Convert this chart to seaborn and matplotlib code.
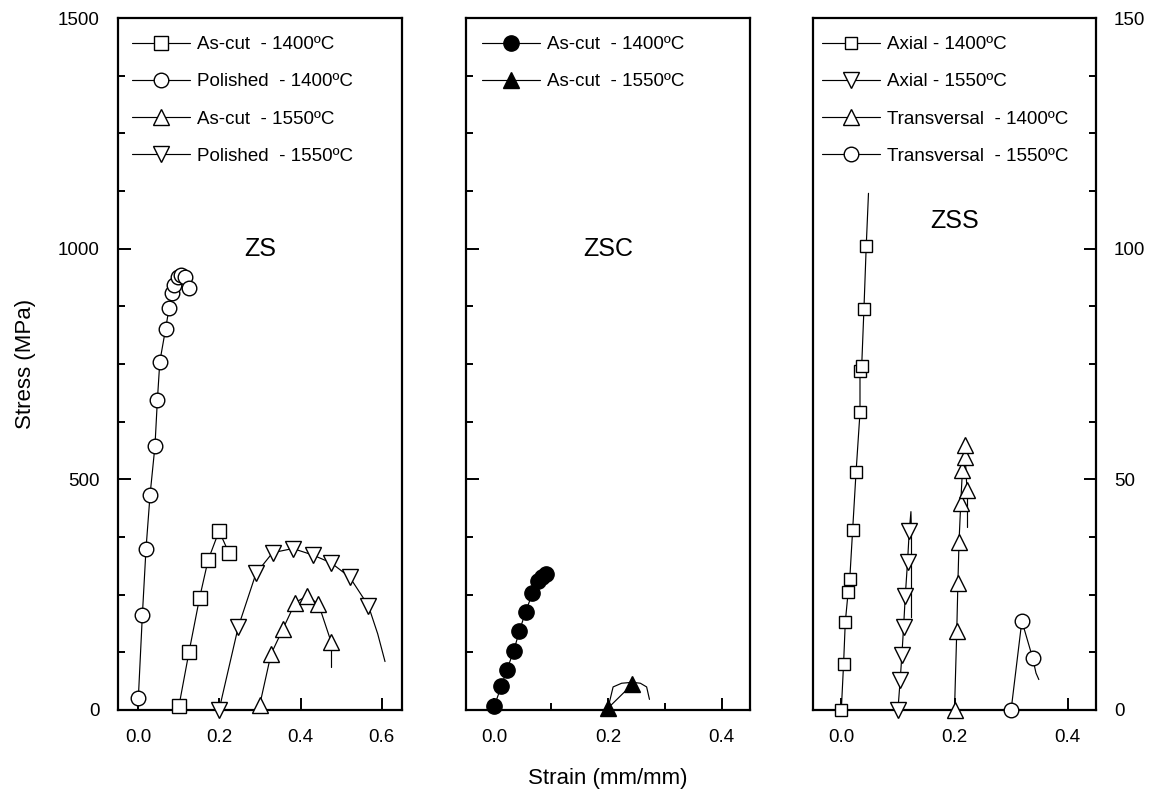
import numpy as np
import matplotlib
matplotlib.use("Agg")
import matplotlib.pyplot as plt
from matplotlib.ticker import MultipleLocator
import seaborn as sns

# --- data (strain in mm/mm, stress in MPa) ---
# ZS
zs_ascut1400_x = [0.100, 0.125, 0.151, 0.172, 0.199, 0.223]
zs_ascut1400_y = [8, 126, 243, 325, 388, 341]
zs_pol1400_x = [0.000, 0.010, 0.019, 0.029, 0.041, 0.047, 0.053, 0.067, 0.076,
                0.082, 0.088, 0.097, 0.106, 0.115, 0.125]
zs_pol1400_y = [25, 206, 350, 467, 572, 672, 755, 825, 872, 903, 922, 938, 942, 938, 914]
zs_ascut1550_x = [0.299, 0.327, 0.356, 0.387, 0.415, 0.444, 0.475]
zs_ascut1550_y = [10, 121, 175, 233, 247, 230, 148]
zs_ascut1550_tail_x = [0.475, 0.475]
zs_ascut1550_tail_y = [148, 93]
zs_pol1550_x = [0.199, 0.246, 0.290, 0.331, 0.381, 0.430, 0.475, 0.521, 0.567]
zs_pol1550_y = [0, 179, 296, 341, 350, 336, 319, 288, 226]
zs_pol1550_tail_x = [0.567, 0.590, 0.608]
zs_pol1550_tail_y = [226, 165, 105]

# ZSC
zsc_1400_x = [0.000, 0.012, 0.022, 0.034, 0.044, 0.055, 0.067, 0.077, 0.083, 0.090]
zsc_1400_y = [9, 51, 87, 128, 171, 213, 253, 280, 289, 295]
zsc_1550_x = [0.200, 0.243]
zsc_1550_y = [4, 56]
zsc_1550_curve_x = [0.200, 0.209, 0.224, 0.243, 0.257, 0.268, 0.273]
zsc_1550_curve_y = [4, 50, 58, 60, 58, 50, 23]

# ZSS (right axis, MPa)
zss_ax1400_x = [0.000, 0.004, 0.007, 0.012, 0.015, 0.020, 0.026, 0.033, 0.033,
                0.036, 0.040, 0.044]
zss_ax1400_y = [0, 10, 19, 25.5, 28.5, 39, 51.5, 64.5, 73.5, 74.5, 87, 100.5]
zss_ax1400_tail_x = [0.044, 0.048]
zss_ax1400_tail_y = [100.5, 112]
zss_ax1550_x = [0.100, 0.104, 0.107, 0.110, 0.113, 0.117, 0.120]
zss_ax1550_y = [0, 6.5, 11.9, 17.9, 24.7, 32.1, 38.7]
zss_ax1550_tail_x = [0.120, 0.123, 0.124, 0.124]
zss_ax1550_tail_y = [38.7, 43, 38, 20]
zss_tr1400_x = [0.200, 0.204, 0.206, 0.208, 0.211, 0.214, 0.219, 0.218, 0.222]
zss_tr1400_y = [0, 17.2, 27.6, 36.5, 44.8, 52, 54.9, 57.4, 47.7]
zss_tr1400_tail_x = [0.222, 0.222]
zss_tr1400_tail_y = [47.7, 39.7]
zss_tr1550_x = [0.300, 0.319, 0.338]
zss_tr1550_y = [0, 19.3, 11.3]
zss_tr1550_tail_x = [0.338, 0.344, 0.349]
zss_tr1550_tail_y = [11.3, 8, 6.6]

panel_names = ["ZS", "ZSC", "ZSS"]

# --- style ---
sns.set_style("ticks")
plt.rcParams['font.family'] = ['Liberation Sans', 'DejaVu Sans']
plt.rcParams['axes.linewidth'] = 1.6
for k in ('text.color', 'axes.labelcolor', 'xtick.color', 'ytick.color',
          'axes.edgecolor'):
    plt.rcParams[k] = 'black'

lw = 0.85
open_kw = dict(color='black', lw=lw, mfc='white', mec='black', mew=1.0)
fill_kw = dict(color='black', lw=lw, mfc='black', mec='black', mew=1.0)


def serie(ax, x, y, marker, ms, kw, label=None):
    sns.lineplot(x=x, y=y, ax=ax, sort=False, estimator=None, marker=marker,
                 ms=ms, label=label, legend=label is not None, clip_on=False,
                 zorder=3, **kw)


def traco(ax, x, y):
    sns.lineplot(x=x, y=y, ax=ax, sort=False, estimator=None, color='black',
                 lw=lw, legend=False)


fig = plt.figure(figsize=(11.56, 7.94), dpi=100)
ax1 = fig.add_axes([0.1021, 0.1058, 0.2457, 0.8715])
ax2 = fig.add_axes([0.4031, 0.1058, 0.2457, 0.8715])
ax3 = fig.add_axes([0.7033, 0.1058, 0.2448, 0.8715])

# ZS
traco(ax1, zs_ascut1550_tail_x, zs_ascut1550_tail_y)
traco(ax1, zs_pol1550_tail_x, zs_pol1550_tail_y)
serie(ax1, zs_ascut1400_x, zs_ascut1400_y, 's', 9.5, open_kw, 'As-cut  - 1400ºC')
serie(ax1, zs_pol1400_x, zs_pol1400_y, 'o', 10.5, open_kw, 'Polished  - 1400ºC')
serie(ax1, zs_ascut1550_x, zs_ascut1550_y, '^', 11, open_kw, 'As-cut  - 1550ºC')
serie(ax1, zs_pol1550_x, zs_pol1550_y, 'v', 11, open_kw, 'Polished  - 1550ºC')

# ZSC
traco(ax2, zsc_1550_curve_x, zsc_1550_curve_y)
serie(ax2, zsc_1400_x, zsc_1400_y, 'o', 11, fill_kw, 'As-cut  - 1400ºC')
serie(ax2, zsc_1550_x, zsc_1550_y, '^', 11, fill_kw, 'As-cut  - 1550ºC')

# ZSS
traco(ax3, zss_ax1400_tail_x, zss_ax1400_tail_y)
traco(ax3, zss_ax1550_tail_x, zss_ax1550_tail_y)
traco(ax3, zss_tr1400_tail_x, zss_tr1400_tail_y)
traco(ax3, zss_tr1550_tail_x, zss_tr1550_tail_y)
serie(ax3, zss_ax1400_x, zss_ax1400_y, 's', 9, open_kw, 'Axial - 1400ºC')
serie(ax3, zss_ax1550_x, zss_ax1550_y, 'v', 11, open_kw, 'Axial - 1550ºC')
serie(ax3, zss_tr1400_x, zss_tr1400_y, '^', 11, open_kw, 'Transversal  - 1400ºC')
serie(ax3, zss_tr1550_x, zss_tr1550_y, 'o', 10.5, open_kw, 'Transversal  - 1550ºC')

# --- axes ---
ax1.set_xlim(-0.05, 0.65)
ax2.set_xlim(-0.05, 0.45)
ax3.set_xlim(-0.05, 0.45)
for ax in (ax1, ax2):
    ax.set_ylim(0, 1500)
    ax.yaxis.set_major_locator(MultipleLocator(500))
    ax.yaxis.set_minor_locator(MultipleLocator(125))
ax3.set_ylim(0, 150)
ax3.yaxis.set_major_locator(MultipleLocator(50))
ax3.yaxis.set_minor_locator(MultipleLocator(12.5))

ax1.xaxis.set_major_locator(MultipleLocator(0.2))
for ax in (ax2, ax3):
    ax.xaxis.set_major_locator(MultipleLocator(0.2))
    ax.xaxis.set_minor_locator(MultipleLocator(0.1))

for ax in (ax1, ax2, ax3):
    ax.set_xlabel('')
    ax.set_ylabel('')
    for s in ax.spines.values():
        s.set_visible(True)
        s.set_linewidth(1.6)
        s.set_color('black')
    ax.tick_params(axis='x', which='major', direction='in', length=9, width=1.4,
                   labelsize=13.5, pad=14, top=False)
    ax.tick_params(axis='x', which='minor', direction='in', length=5, width=1.4,
                   top=False)
    ax.tick_params(axis='y', which='major', direction='in', length=9, width=1.4,
                   labelsize=13.5, pad=13)
    ax.tick_params(axis='y', which='minor', direction='in', length=5, width=1.4)
    ax.xaxis.set_major_formatter(matplotlib.ticker.FormatStrFormatter('%.1f'))

ax1.tick_params(axis='y', which='both', left=True, right=False)
ax2.tick_params(axis='y', which='both', left=True, right=False, labelleft=False)
ax3.yaxis.tick_right()
ax3.tick_params(axis='y', which='both', left=False, right=True, labelright=True,
                labelleft=False)

ax1.set_ylabel('Stress (MPa)', fontsize=16)
ax1.yaxis.set_label_coords(-0.29, 0.5)
ax2.set_xlabel('Strain (mm/mm)', fontsize=16)
ax2.xaxis.set_label_coords(0.5, -0.084)

ax1.text(0.30, 1000, panel_names[0], fontsize=18, ha='center', va='center')
ax2.text(0.20, 1000, panel_names[1], fontsize=18, ha='center', va='center')
ax3.text(0.20, 106, panel_names[2], fontsize=18, ha='center', va='center')

leg_kw = dict(loc='upper left', frameon=False, fontsize=13.5, borderpad=0,
              borderaxespad=0, handlelength=3.1, handletextpad=0.35,
              labelspacing=1.07)
ax1.legend(bbox_to_anchor=(0.049, 0.974), **leg_kw)
ax2.legend(bbox_to_anchor=(0.056, 0.974), **leg_kw)
ax3.legend(bbox_to_anchor=(0.032, 0.974), **leg_kw)

fig.savefig('out.png', dpi=100)
